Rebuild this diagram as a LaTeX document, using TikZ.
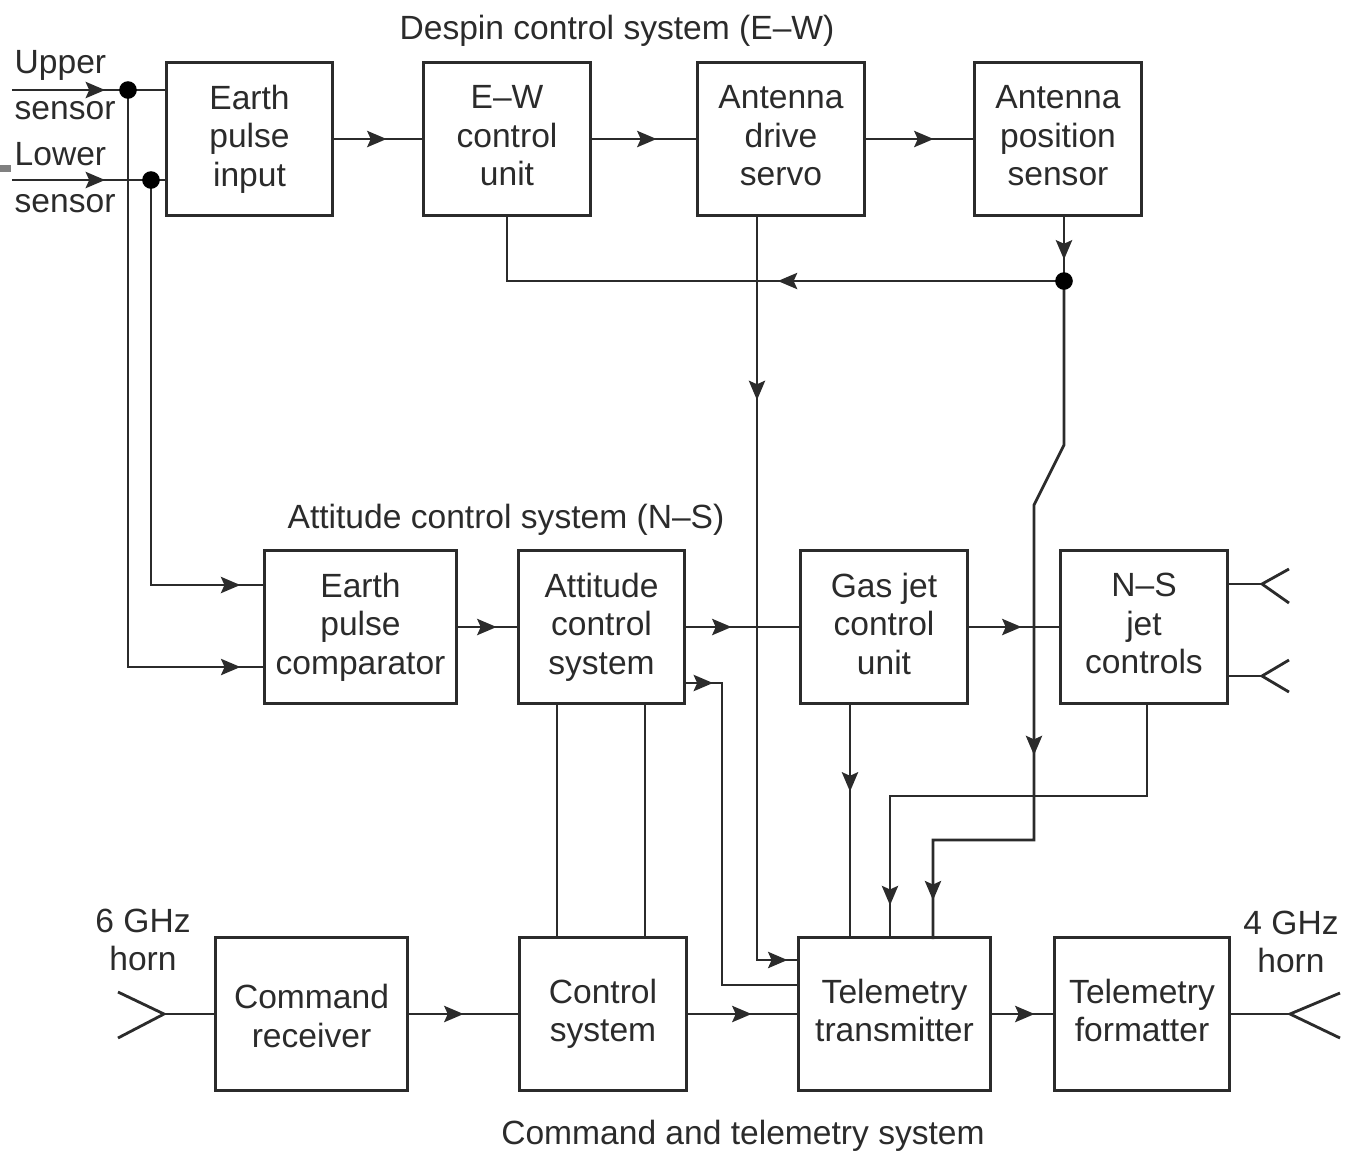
\documentclass[tikz,border=0pt]{standalone}
\usepackage{fontspec}
\setmainfont{Liberation Sans}
\usepackage{xcolor}
\usetikzlibrary{arrows.meta,decorations.markings}
\definecolor{inkgray}{HTML}{2B2B2B}

\tikzset{
  blockbox/.style={draw=inkgray,line width=0.85pt,inner sep=0pt,align=center,minimum height=1.52cm,text=inkgray,font=\fontsize{9.55}{10.9}\selectfont,execute at begin node={\rule{0pt}{7pt}},execute at end node={\rule[-2pt]{0pt}{2pt}}},
  plaintext/.style={inner sep=0pt,align=center,text=inkgray,font=\fontsize{9.55}{10.9}\selectfont},
  wire/.style={draw=inkgray,line width=0.8pt},
  tiphead/.tip={Stealth[length=5.5pt,width=4.6pt,inset=1pt]},
  tipat/.style={postaction={decorate,decoration={markings,mark=at position #1 with {\arrow{tiphead}}}}},
  tipstwo/.style 2 args={postaction={decorate,decoration={markings,mark=at position #1 with {\arrow{tiphead}},mark=at position #2 with {\arrow{tiphead}}}}}
}

\begin{document}
\begin{tikzpicture}[x=0.01cm,y=-0.01cm]
  \useasboundingbox (0,0) rectangle (1347,1153);

  \node[blockbox,minimum width=1.65cm] (earthin) at (249.5,139) {Earth\\pulse\\input};
  \node[blockbox,minimum width=1.66cm] (ewctrl) at (507,139) {E--W\\control\\unit};
  \node[blockbox,minimum width=1.66cm] (drive) at (781,139) {Antenna\\drive\\servo};
  \node[blockbox,minimum width=1.66cm] (possensor) at (1058,139) {Antenna\\position\\sensor};
  \node[blockbox,minimum width=1.91cm] (earthcmp) at (360.5,627) {Earth\\pulse\\comparator};
  \node[blockbox,minimum width=1.65cm] (attctrl) at (601.5,627) {Attitude\\control\\system};
  \node[blockbox,minimum width=1.66cm] (gasjet) at (884,627) {Gas jet\\control\\unit};
  \node[blockbox,minimum width=1.66cm] (nsjet) at (1144,627) {N--S\\jet\\controls};
  \node[blockbox,minimum width=1.91cm] (cmdrx) at (311.5,1014) {\rule{0pt}{10pt}Command\\receiver};
  \node[blockbox,minimum width=1.66cm] (ctrlsys) at (603,1014) {Control\\system};
  \node[blockbox,minimum width=1.91cm] (txmit) at (894.5,1014) {Telemetry\\transmitter};
  \node[blockbox,minimum width=1.74cm] (formatter) at (1142,1014) {Telemetry\\formatter};

  \node[plaintext] (despintitle) at (617,31) {Despin control system (E--W)};
  \node[plaintext] (atttitle) at (506,520) {Attitude control system (N--S)};
  \node[plaintext] (cmdtitle) at (743,1136) {Command and telemetry system};
  \node[plaintext,anchor=west] (uplabel) at (14,65) {Upper};
  \node[plaintext,anchor=west] (upsensor) at (14,111) {sensor};
  \node[plaintext,anchor=west] (lowlabel) at (14,154) {Lower};
  \node[plaintext,anchor=west] (lowsensor) at (14,204) {sensor};
  \node[plaintext] (sixghz) at (143,940) {6 GHz\\horn};
  \node[plaintext] (fourghz) at (1291,942) {4 GHz\\horn};

  \coordinate (upin) at (12,90);
  \coordinate (lowin) at (12,180);
  \coordinate (updot) at (128,90);
  \coordinate (lowdot) at (151,180);
  \coordinate (posdot) at (1064,281);
  \coordinate (kinka) at (1064,445);
  \coordinate (kinkb) at (1034,505);
  \coordinate (kinkc) at (1034,840);
  \coordinate (cmpa) at (265,585);
  \coordinate (cmpb) at (265,667);
  \coordinate (attfb) at (684,683);
  \coordinate (fbturn) at (722,985);
  \coordinate (drivedown) at (757,215);
  \coordinate (nsdown) at (1147,703);
  \coordinate (nsturn) at (890,796);
  \coordinate (txa) at (799,960);
  \coordinate (txb) at (799,985);
  \coordinate (txc) at (890,939);
  \coordinate (txd) at (933,939);
  \coordinate (txe) at (850,939);
  \coordinate (ctla) at (557,939);
  \coordinate (ctlb) at (645,939);

  \draw[wire,tipat=0.93cm] (upin) -- (upin -| earthin.west);
  \draw[wire,tipat=0.93cm] (lowin) -- (lowin -| earthin.west);
  \draw[wire,tipat=4.94cm] (lowdot) |- (cmpa);
  \draw[wire,tipat=6.89cm] (updot) |- (cmpb);

  \draw[wire,tipat=0.53cm] (earthin) -- (ewctrl);
  \draw[wire,tipat=0.65cm] (ewctrl) -- (drive);
  \draw[wire,tipat=0.68cm] (drive) -- (possensor);
  \draw[wire,tipat=0.43cm] (possensor.south -| posdot) -- (posdot);
  \draw[wire,tipat=2.86cm] (posdot) -| (ewctrl.south);
  \draw[wire,tipstwo={4.81cm}{7.27cm}] (posdot) -- (kinka) -- (kinkb) -- (kinkc) -| (txd);
  \draw[wire,tipstwo={1.85cm}{7.75cm}] (drivedown) |- (txa);

  \draw[wire,tipat=0.39cm] (earthcmp) -- (attctrl);
  \draw[wire,tipat=0.46cm] (attctrl) -- (gasjet);
  \draw[wire,tipat=0.53cm] (gasjet) -- (nsjet);
  \draw[wire,tipat=0.29cm] (attfb) -| (fbturn) -- (txb);
  \draw[wire] (ctla |- attctrl.south) -- (ctla);
  \draw[wire] (ctlb |- attctrl.south) -- (ctlb);
  \draw[wire,tipat=0.87cm] (txe |- gasjet.south) -- (txe);
  \draw[wire,tipat=4.59cm] (nsdown) |- (nsturn) -- (txc);

  \draw[wire,tipat=0.55cm] (cmdrx) -- (ctrlsys);
  \draw[wire,tipat=0.64cm] (ctrlsys) -- (txmit);
  \draw[wire,tipat=0.43cm] (txmit) -- (formatter);

  \draw[wire] (nsjet.east |- 0,584) -- (1262,584);
  \draw[wire] (1289,569) -- (1262,584) -- (1289,603);
  \draw[wire] (nsjet.east |- 0,676) -- (1262,676);
  \draw[wire] (1289,660) -- (1262,676) -- (1289,692);
  \draw[wire] (118,992) -- (164,1014) -- (118,1038);
  \draw[wire] (164,1014) -- (cmdrx);
  \draw[wire] (formatter) -- (1290,1014);
  \draw[wire] (1340,993) -- (1290,1014) -- (1340,1038);

  \filldraw[black] (updot) circle (2.3pt);
  \filldraw[black] (lowdot) circle (2.3pt);
  \filldraw[black] (posdot) circle (2.3pt);
  \fill[gray] (0,165) rectangle (11,172);
\end{tikzpicture}
\end{document}
